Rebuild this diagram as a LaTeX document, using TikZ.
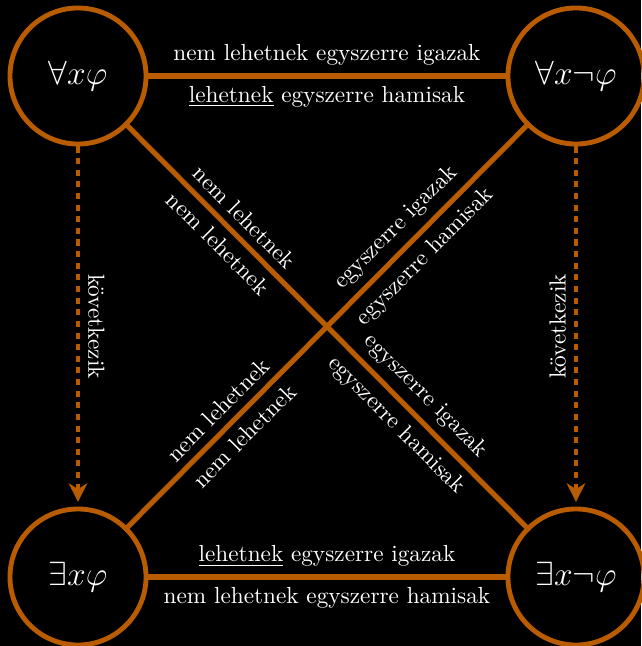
\documentclass[tikz,border=0pt]{standalone}
\usepackage{amsfonts, amsmath, amssymb}
\usepackage{tikz}
\usetikzlibrary{arrows.meta}

\definecolor{narancs}{RGB}{185,92,0}

\begin{document}
\begin{tikzpicture}[x=0.43pt, y=-0.43pt,
  kor/.style={circle, draw=narancs, line width=2.1pt, minimum size=58.5pt,
    inner sep=0pt, text=white, font=\fontsize{15}{18}\selectfont},
  vonal/.style={draw=narancs, line width=2.2pt},
  kovet/.style={draw=narancs, line width=2.1pt, dash pattern=on 2.6pt off 2.4pt,
    -{Stealth[length=8pt, width=8pt, inset=2.5pt]}, shorten >=2pt},
  felirat/.style={text=white}]
\fill[black] (0,0) rectangle (641,646);
\useasboundingbox (0,0) rectangle (641,646);
% a negy allitas
\node[kor] (A) at (78,76) {$\forall x\varphi$};
\node[kor] (B) at (576,76) {$\forall x\neg\varphi$};
\node[kor] (C) at (78,577) {$\exists x\varphi$};
\node[kor] (D) at (576,577) {$\exists x\neg\varphi$};
% vizszintes oldalak
\draw[vonal] (A) -- node[felirat, above] {nem lehetnek egyszerre igazak}
  node[felirat, below] {\underline{lehetnek} egyszerre hamisak} (B);
\draw[vonal] (C) -- node[felirat, above] {\underline{lehetnek} egyszerre igazak}
  node[felirat, below] {nem lehetnek egyszerre hamisak} (D);
% atlok
\draw[vonal] (A) -- node[felirat, sloped, above, pos=.26] {nem lehetnek}
  node[felirat, sloped, below, pos=.26] {nem lehetnek}
  node[felirat, sloped, above, pos=.71] {egyszerre igazak}
  node[felirat, sloped, below, pos=.71] {egyszerre hamisak} (D);
\draw[vonal] (C) -- node[felirat, sloped, above, pos=.26] {nem lehetnek}
  node[felirat, sloped, below, pos=.26] {nem lehetnek}
  node[felirat, sloped, above, pos=.71] {egyszerre igazak}
  node[felirat, sloped, below, pos=.71] {egyszerre hamisak} (B);
% kovetkeztetesek
\draw[kovet] (A) -- node[felirat, rotate=-90, above] {következik} (C);
\draw[kovet] (B) -- node[felirat, rotate=90, above] {következik} (D);
\end{tikzpicture}
\end{document}
